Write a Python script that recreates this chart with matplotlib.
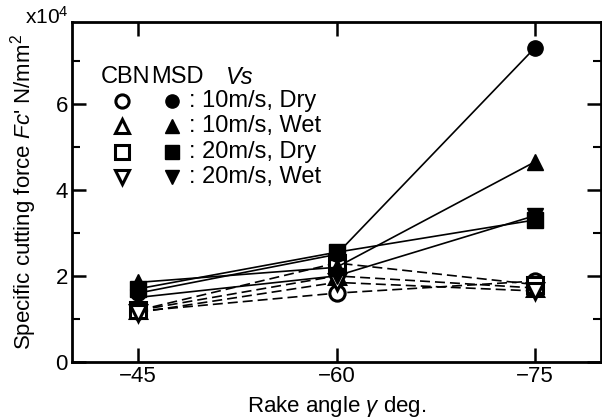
import numpy as np
import matplotlib
matplotlib.use('Agg')
import matplotlib.pyplot as plt

plt.rcParams['font.family'] = ['Liberation Sans', 'DejaVu Sans']
plt.rcParams['mathtext.fontset'] = 'custom'
plt.rcParams['mathtext.rm'] = 'Liberation Sans'
plt.rcParams['mathtext.it'] = 'Liberation Sans:italic'

#%% data (x10^4 N/mm^2)
rake = [-45, -60, -75]
cbn_10_dry = [1.18, 1.60, 1.88]
cbn_10_wet = [1.20, 2.00, 1.72]
cbn_20_dry = [1.20, 2.30, 1.80]
cbn_20_wet = [1.15, 1.85, 1.65]
msd_10_dry = [1.60, 2.50, 7.30]
msd_10_wet = [1.85, 2.20, 4.65]
msd_20_dry = [1.70, 2.55, 3.30]
msd_20_wet = [1.50, 2.00, 3.40]
labels = [': 10m/s, Dry', ': 10m/s, Wet', ': 20m/s, Dry', ': 20m/s, Wet']
markers = ['o', '^', 's', 'v']

cbn = [cbn_10_dry, cbn_10_wet, cbn_20_dry, cbn_20_wet]
msd = [msd_10_dry, msd_10_wet, msd_20_dry, msd_20_wet]

#%% plot
fig = plt.figure(figsize=(6.02, 4.18), dpi=100)
ax = fig.add_axes([72/602, 1-362/418, 529/602, 340/418])

for y, m in zip(cbn, markers):
    ax.plot(rake, y, ls=(0, (6, 3)), color='k', lw=1.2, marker=m, ms=11,
            mfc='white', mec='k', mew=2.2, zorder=3)
for y, m in zip(msd, markers):
    ax.plot(rake, y, ls='-', color='k', lw=1.2, marker=m, ms=11,
            mfc='k', mec='k', zorder=4)

ax.set_xlim(-40, -80)
ax.set_ylim(0, 7.9)
ax.set_xticks(rake)
ax.set_yticks([0, 2, 4, 6])
ax.set_yticks([1, 3, 5, 7], minor=True)
ax.tick_params(which='major', direction='in', length=10, width=1.8,
               labelsize=16, top=True, right=True, pad=3)
ax.tick_params(which='minor', direction='in', length=6, width=1.5, right=True)
for s in ax.spines.values():
    s.set_linewidth(2)

ax.set_xlabel(r'Rake angle $\gamma$ deg.', fontsize=16, labelpad=5)
ax.set_ylabel(r"Specific cutting force $Fc$' N/mm$^2$", fontsize=16, labelpad=12)
fig.text(25/602, 1-17/418, r'x10$^4$', fontsize=15, va='center', ha='left')

# legend table
hy = 0.838
row_y = [0.768, 0.695, 0.617, 0.544]
ax.text(0.102, hy, 'CBN', transform=ax.transAxes, ha='center', va='center', fontsize=17)
ax.text(0.200, hy, 'MSD', transform=ax.transAxes, ha='center', va='center', fontsize=17)
ax.text(0.318, hy, 'Vs', transform=ax.transAxes, ha='center', va='center', fontsize=17, style='italic')
for ry, m, lab in zip(row_y, markers, labels):
    ax.plot([0.0945], [ry], marker=m, ms=9.5, mfc='white', mec='k', mew=2.2,
            transform=ax.transAxes, ls='none')
    ax.plot([0.189], [ry], marker=m, ms=9.5, mfc='k', mec='k',
            transform=ax.transAxes, ls='none')
    ax.text(0.222, ry, lab, transform=ax.transAxes, ha='left', va='center', fontsize=17)

plt.savefig('out.png', dpi=100)
